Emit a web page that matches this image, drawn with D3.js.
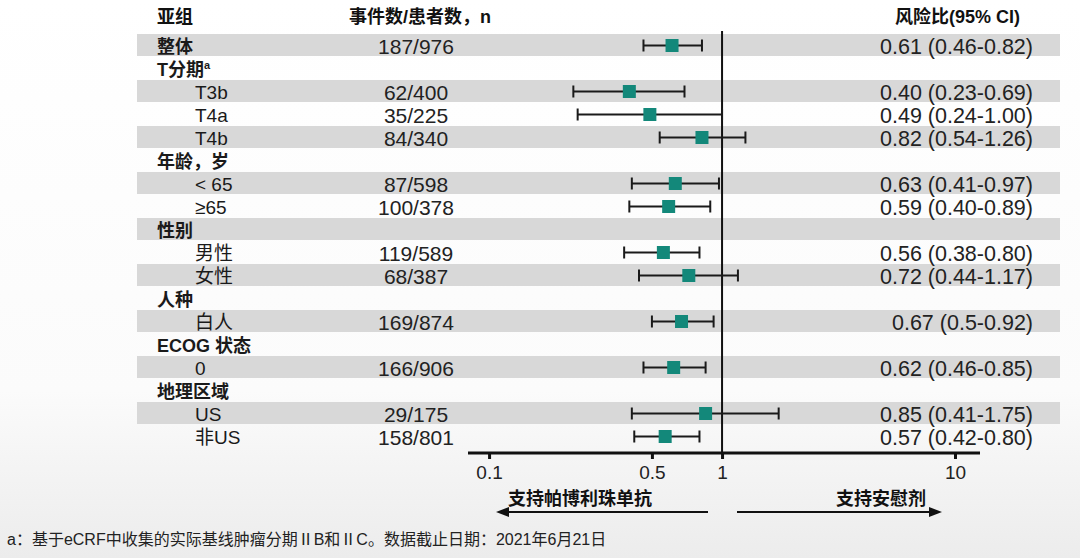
<!DOCTYPE html>
<html>
<head>
<meta charset="utf-8">
<script src="https://cdn.jsdelivr.net/npm/d3@7"></script>
<style>
  html, body { margin: 0; padding: 0; background: #fff; }
  svg { display: block; font-family: "Liberation Sans", Arial, "Noto Sans CJK SC", sans-serif; }
</style>
</head>
<body>
<svg id="chart" width="1080" height="558"></svg>
<script>
// ---------- data ----------
const rowLabels = ["整体", "T分期", "T3b", "T4a", "T4b", "年龄，岁", "< 65", "≥65", "性别", "男性", "女性", "人种", "白人", "ECOG 状态", "0", "地理区域", "US", "非US"];
const rowIsGroup = [true, true, false, false, false, true, false, false, true, false, false, true, false, true, false, true, false, false];
const rowShaded  = [true, false, true, false, true, false, true, false, true, false, true, false, true, false, true, false, true, false];
const eventsText = ["187/976", "", "62/400", "35/225", "84/340", "", "87/598", "100/378", "", "119/589", "68/387", "", "169/874", "", "166/906", "", "29/175", "158/801"];
const hrValues = [0.61, null, 0.40, 0.49, 0.82, null, 0.63, 0.59, null, 0.56, 0.72, null, 0.67, null, 0.62, null, 0.85, 0.57];
const ciLower  = [0.46, null, 0.23, 0.24, 0.54, null, 0.41, 0.40, null, 0.38, 0.44, null, 0.5, null, 0.46, null, 0.41, 0.42];
const ciUpper  = [0.82, null, 0.69, 1.00, 1.26, null, 0.97, 0.89, null, 0.80, 1.17, null, 0.92, null, 0.85, null, 1.75, 0.80];
const hrText   = ["0.61 (0.46-0.82)", "", "0.40 (0.23-0.69)", "0.49 (0.24-1.00)", "0.82 (0.54-1.26)", "", "0.63 (0.41-0.97)", "0.59 (0.40-0.89)", "", "0.56 (0.38-0.80)", "0.72 (0.44-1.17)", "", "0.67 (0.5-0.92)", "", "0.62 (0.46-0.85)", "", "0.85 (0.41-1.75)", "0.57 (0.42-0.80)"];
const tickValues = [0.1, 0.5, 1, 10];
const tickLabels = ["0.1", "0.5", "1", "10"];
const headers = ["亚组", "事件数/患者数，n", "风险比(95% CI)"];
const favourLeft = "支持帕博利珠单抗";
const favourRight = "支持安慰剂";
const footnote = "a：基于eCRF中收集的实际基线肿瘤分期ⅡB和ⅡC。数据截止日期：2021年6月21日";

// ---------- layout ----------
const svg = d3.select("#chart");
const W = 1080, H = 558;

// background
const defs = svg.append("defs");
const bg = defs.append("linearGradient").attr("id", "bgGrad").attr("x1", 0).attr("y1", 0).attr("x2", 0).attr("y2", 1);
bg.append("stop").attr("offset", "0%").attr("stop-color", "#ffffff");
bg.append("stop").attr("offset", "70%").attr("stop-color", "#fbfbfb");
bg.append("stop").attr("offset", "100%").attr("stop-color", "#ececec");
svg.append("rect").attr("width", W).attr("height", H).attr("fill", "url(#bgGrad)");

const x = d3.scaleLog().domain([0.0812, 12.8]).range([468, 980]);
const rowTop0 = 34, rowH = 23;
const y = i => rowTop0 + i * rowH + rowH / 2;
const idx = d3.range(rowLabels.length);

// shaded bands
svg.append("g").selectAll("rect").data(idx.filter(i => rowShaded[i])).join("rect")
  .attr("x", 137).attr("width", 1060 - 137)
  .attr("y", i => rowTop0 + i * rowH).attr("height", rowH - 1)
  .attr("fill", "#d8d8d8");

// headers
const hdr = svg.append("g").attr("font-weight", "bold").attr("fill", "#111").attr("font-size", 18);
hdr.append("text").attr("x", 157).attr("y", 17).attr("dominant-baseline", "central").text(headers[0]);
hdr.append("text").attr("x", 420).attr("y", 17).attr("text-anchor", "middle").attr("dominant-baseline", "central").text(headers[1]);
hdr.append("text").attr("x", 1020).attr("y", 17).attr("text-anchor", "end").attr("dominant-baseline", "central").text(headers[2]);

// row labels
const lab = svg.append("g").selectAll("text").data(idx).join("text")
  .attr("x", i => rowIsGroup[i] ? 157 : 195)
  .attr("y", i => y(i) + 1)
  .attr("dominant-baseline", "central")
  .attr("font-size", i => rowIsGroup[i] ? 18 : 19)
  .attr("font-weight", i => rowIsGroup[i] ? "bold" : "normal")
  .attr("fill", "#1a1a1a")
  .text(i => rowLabels[i]);
// superscript for T分期
lab.filter(i => i === 1).append("tspan").attr("font-size", 11).attr("dy", -5).text("a");

// events column
svg.append("g").selectAll("text").data(idx.filter(i => eventsText[i])).join("text")
  .attr("x", 416).attr("y", i => y(i) + 1)
  .attr("text-anchor", "middle").attr("dominant-baseline", "central")
  .attr("font-size", 21).attr("fill", "#222")
  .text(i => eventsText[i]);

// HR text column
svg.append("g").selectAll("text").data(idx.filter(i => hrText[i])).join("text")
  .attr("x", 1033).attr("y", i => y(i) + 1)
  .attr("text-anchor", "end").attr("dominant-baseline", "central")
  .attr("font-size", 21.5).attr("fill", "#222")
  .text(i => hrText[i]);

// reference line at 1
svg.append("line").attr("x1", x(1)).attr("x2", x(1)).attr("y1", 31).attr("y2", 453)
  .attr("stroke", "#111").attr("stroke-width", 2);

// CI whiskers
const pts = idx.filter(i => hrValues[i] != null);
const ci = svg.append("g").attr("stroke", "#1a1a1a").attr("stroke-width", 2);
ci.selectAll("line.ci").data(pts).join("line").attr("class", "ci")
  .attr("x1", i => x(ciLower[i])).attr("x2", i => x(ciUpper[i]))
  .attr("y1", i => y(i)).attr("y2", i => y(i));
ci.selectAll("line.capL").data(pts).join("line").attr("class", "capL")
  .attr("x1", i => x(ciLower[i])).attr("x2", i => x(ciLower[i]))
  .attr("y1", i => y(i) - 6).attr("y2", i => y(i) + 6);
ci.selectAll("line.capR").data(pts).join("line").attr("class", "capR")
  .attr("x1", i => x(ciUpper[i])).attr("x2", i => x(ciUpper[i]))
  .attr("y1", i => y(i) - 6).attr("y2", i => y(i) + 6);

// point estimates
svg.append("g").selectAll("rect").data(pts).join("rect")
  .attr("x", i => x(hrValues[i]) - 6.5).attr("y", i => y(i) - 6.5)
  .attr("width", 13).attr("height", 13)
  .attr("fill", "#13887a");

// x axis
const axis = d3.axisBottom(x).tickValues(tickValues).tickFormat((d, k) => tickLabels[k]).tickSize(6).tickPadding(7);
const gAx = svg.append("g").attr("transform", "translate(0,453)").call(axis);
gAx.select(".domain").attr("stroke", "#111").attr("stroke-width", 3).attr("d", `M${x.range()[0]},0H${x.range()[1]}`);
gAx.selectAll(".tick line").attr("stroke", "#111").attr("stroke-width", 3);
gAx.selectAll(".tick text").attr("font-size", 19).attr("fill", "#222")
  .attr("font-family", "Liberation Sans, Arial, sans-serif");

// favour arrows
const arrowY = 512;
const arr = svg.append("g");
arr.append("line").attr("x1", 708).attr("x2", 505).attr("y1", arrowY).attr("y2", arrowY).attr("stroke", "#111").attr("stroke-width", 2);
arr.append("path").attr("d", `M496,${arrowY} L509,${arrowY - 5} L509,${arrowY + 5} Z`).attr("fill", "#111");
arr.append("line").attr("x1", 737).attr("x2", 932).attr("y1", arrowY).attr("y2", arrowY).attr("stroke", "#111").attr("stroke-width", 2);
arr.append("path").attr("d", `M942,${arrowY} L929,${arrowY - 5} L929,${arrowY + 5} Z`).attr("fill", "#111");
arr.append("text").attr("x", 580).attr("y", 499).attr("text-anchor", "middle").attr("dominant-baseline", "central")
  .attr("font-size", 18).attr("font-weight", "bold").attr("fill", "#111").text(favourLeft);
arr.append("text").attr("x", 881).attr("y", 499).attr("text-anchor", "middle").attr("dominant-baseline", "central")
  .attr("font-size", 18).attr("font-weight", "bold").attr("fill", "#111").text(favourRight);

// footnote
svg.append("text").attr("x", 7).attr("y", 539).attr("dominant-baseline", "central")
  .attr("font-size", 16).attr("fill", "#222").text(footnote);
</script>
</body>
</html>
